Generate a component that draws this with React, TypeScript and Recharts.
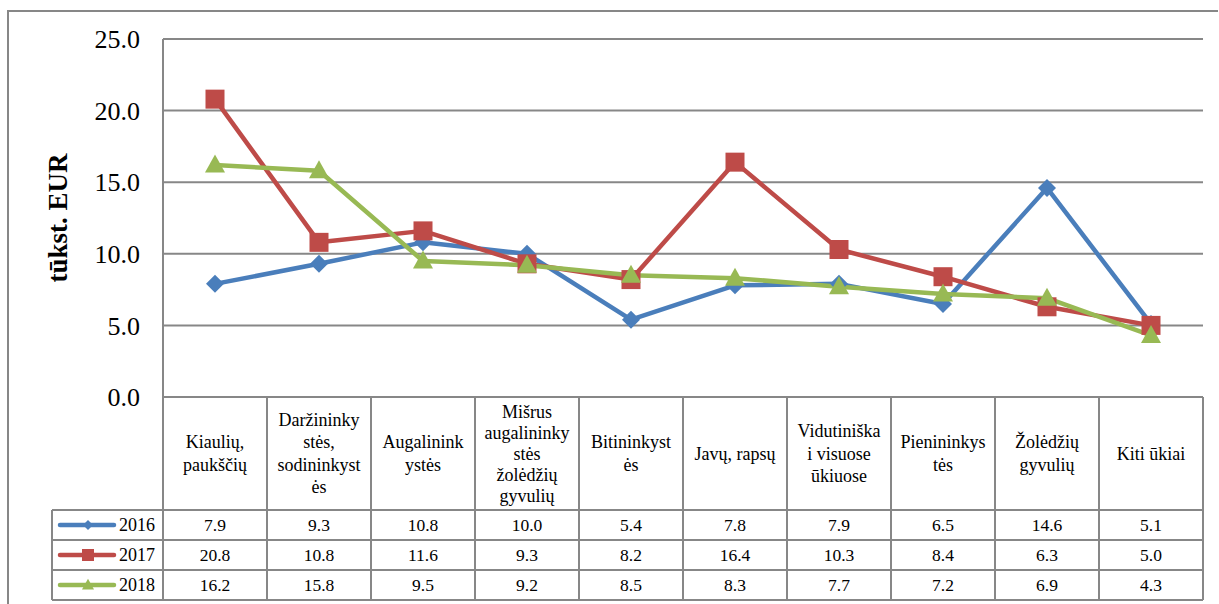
import { CartesianGrid, Line, LineChart, XAxis, YAxis } from "recharts";

// row headers as they wrap in the table
const categories = [
  "Kiaulių,\npaukščių",
  "Daržininky\nstės,\nsodininkyst\nės",
  "Augalinink\nystės",
  "Mišrus\naugalininky\nstės\nžolėdžių\ngyvulių",
  "Bitininkyst\nės",
  "Javų, rapsų",
  "Vidutiniška\ni visuose\nūkiuose",
  "Pienininkys\ntės",
  "Žolėdžių\ngyvulių",
  "Kiti ūkiai",
];

const values2016 = [7.9, 9.3, 10.8, 10.0, 5.4, 7.8, 7.9, 6.5, 14.6, 5.1];
const values2017 = [20.8, 10.8, 11.6, 9.3, 8.2, 16.4, 10.3, 8.4, 6.3, 5.0];
const values2018 = [16.2, 15.8, 9.5, 9.2, 8.5, 8.3, 7.7, 7.2, 6.9, 4.3];

const yTicks = [0, 5, 10, 15, 20, 25];

const series = [
  { key: "2016", values: values2016, color: "#4A7EBB", shape: "diamond" },
  { key: "2017", values: values2017, color: "#BE4B48", shape: "square" },
  { key: "2018", values: values2018, color: "#98B954", shape: "triangle" },
];

const data = categories.map((name, i) => ({
  name,
  "2016": values2016[i],
  "2017": values2017[i],
  "2018": values2018[i],
}));

const W = 1219;
const H = 604;
const LEFT = 163;
const RIGHT = 16;
const TOP = 39;
const AXIS_H = 207;
const COL_W = (W - LEFT - RIGHT) / categories.length;
const TABLE_TOP = H - AXIS_H;
const HEAD_H = 113;
const ROW_H = 30;
const LEGEND_X = 52;
const GRID = "#878787";
const FONT = "Liberation Serif, Times New Roman, DejaVu Serif, serif";

function Marker({ shape, cx, cy, r, color }: { shape: string; cx: number; cy: number; r: number; color: string }) {
  if (shape === "diamond") {
    return <polygon points={`${cx},${cy - r} ${cx + r},${cy} ${cx},${cy + r} ${cx - r},${cy}`} fill={color} />;
  }
  if (shape === "square") {
    return <rect x={cx - r} y={cy - r} width={r * 2} height={r * 2} fill={color} />;
  }
  return (
    <polygon
      points={`${cx},${cy - r * 1.05} ${cx + r},${cy + r * 0.75} ${cx - r},${cy + r * 0.75}`}
      fill={color}
    />
  );
}

const textStyle = { fontFamily: FONT };

function TableColumn(props: any) {
  const { x, index } = props;
  const left = x - COL_W / 2;
  const right = x + COL_W / 2;
  const lines = categories[index].split("\n");
  const lh = lines.length > 4 ? 21 : 22.5;
  const headMid = TABLE_TOP + HEAD_H / 2;
  const firstY = headMid - ((lines.length - 1) * lh) / 2;
  const rowsTop = TABLE_TOP + HEAD_H;

  return (
    <g>
      <line x1={right} y1={TABLE_TOP} x2={right} y2={rowsTop + ROW_H * 3} stroke={GRID} strokeWidth={2} />
      {index === 0 && (
        <line x1={left} y1={TABLE_TOP} x2={left} y2={rowsTop + ROW_H * 3} stroke={GRID} strokeWidth={2} />
      )}
      {[0, 1, 2, 3].map((r) => (
        <line
          key={r}
          x1={index === 0 ? LEGEND_X : left}
          y1={rowsTop + ROW_H * r}
          x2={right}
          y2={rowsTop + ROW_H * r}
          stroke={GRID}
          strokeWidth={2}
        />
      ))}
      {lines.map((t, k) => (
        <text
          key={k}
          x={x}
          y={firstY + k * lh}
          textAnchor="middle"
          dominantBaseline="central"
          fontSize={18}
          style={textStyle}
          fill="#000"
        >
          {t}
        </text>
      ))}
      {series.map((s, r) => (
        <text
          key={s.key}
          x={x}
          y={rowsTop + ROW_H * r + ROW_H / 2}
          textAnchor="middle"
          dominantBaseline="central"
          fontSize={17.5}
          style={textStyle}
          fill="#000"
        >
          {s.values[index].toFixed(1)}
        </text>
      ))}
      {index === 0 && (
        <g>
          <line x1={LEGEND_X} y1={rowsTop} x2={LEGEND_X} y2={rowsTop + ROW_H * 3} stroke={GRID} strokeWidth={2} />
          {series.map((s, r) => {
            const cy = rowsTop + ROW_H * r + ROW_H / 2;
            return (
              <g key={s.key}>
                <line x1={60} y1={cy} x2={114} y2={cy} stroke={s.color} strokeWidth={4.5} strokeLinecap="round" />
                <Marker shape={s.shape} cx={88} cy={cy} r={s.shape === "diamond" ? 5 : 6} color={s.color} />
                <text
                  x={155}
                  y={cy}
                  textAnchor="end"
                  dominantBaseline="central"
                  fontSize={18}
                  style={textStyle}
                  fill="#000"
                >
                  {s.key}
                </text>
              </g>
            );
          })}
        </g>
      )}
    </g>
  );
}

function YTitle(props: any) {
  const vb = props.viewBox;
  const cx = 67;
  const cy = vb.y + vb.height / 2;
  return (
    <text
      x={cx}
      y={cy}
      transform={`rotate(-90, ${cx}, ${cy})`}
      textAnchor="middle"
      fontSize={27}
      fontWeight="bold"
      style={textStyle}
      fill="#000"
    >
      tūkst. EUR
    </text>
  );
}

export default function App() {
  return (
    <div style={{ position: "absolute", left: 0, top: 0, width: W, height: H, background: "#fff" }}>
      <div
        style={{
          position: "absolute",
          left: 7,
          top: 10,
          width: W - 8,
          height: H - 10,
          borderLeft: `2px solid ${GRID}`,
          borderTop: `2px solid ${GRID}`,
          boxSizing: "border-box",
        }}
      />
      <LineChart
        width={W}
        height={H}
        data={data}
        margin={{ top: TOP, right: RIGHT, left: 0, bottom: 0 }}
        style={{ position: "absolute", left: 0, top: 0 }}
      >
        <CartesianGrid vertical={false} stroke={GRID} strokeWidth={2} />
        <XAxis
          dataKey="name"
          scale="point"
          padding={{ left: COL_W / 2, right: COL_W / 2 }}
          interval={0}
          height={AXIS_H}
          tickLine={false}
          tickSize={0}
          axisLine={{ stroke: GRID, strokeWidth: 2 }}
          tick={<TableColumn />}
        />
        <YAxis
          width={LEFT}
          domain={[0, 25]}
          ticks={yTicks}
          tickLine={false}
          tickSize={0}
          tickMargin={23}
          axisLine={{ stroke: GRID, strokeWidth: 2 }}
          tickFormatter={(v: number) => v.toFixed(1)}
          tick={{ fontSize: 26, style: textStyle, fill: "#000" }}
          label={<YTitle />}
        />
        {series.map((s) => (
          <Line
            key={s.key}
            dataKey={s.key}
            stroke={s.color}
            strokeWidth={4.5}
            strokeLinejoin="round"
            isAnimationActive={false}
            dot={(p: any) => (
              <Marker
                key={`${s.key}-${p.index}`}
                shape={s.shape}
                cx={p.cx}
                cy={p.cy}
                r={s.shape === "diamond" ? 9 : s.shape === "square" ? 9.5 : 10}
                color={s.color}
              />
            )}
          />
        ))}
      </LineChart>
    </div>
  );
}
